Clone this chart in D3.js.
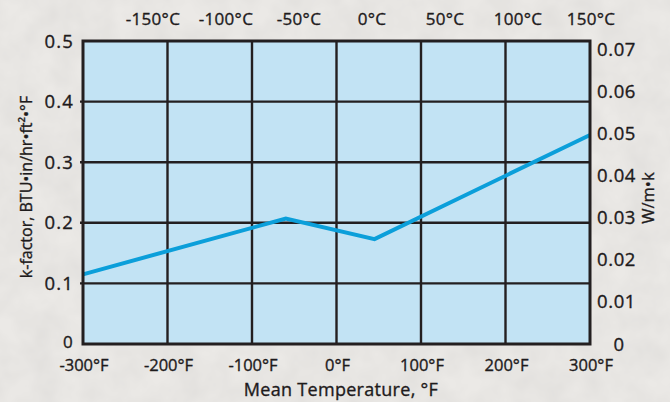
<!DOCTYPE html>
<html>
<head>
<meta charset="utf-8">
<script src="https://cdn.jsdelivr.net/npm/d3@7"></script>
<style>
	body { margin: 0; background: #e9e7e4; }
	svg text { font-family: "Open Sans", "Noto Sans", sans-serif; fill: #1e1b1c; stroke: #1e1b1c; stroke-width: 0.35px; }
</style>
</head>
<body>
<svg id="chart" width="670" height="402"></svg>
<script>
// data
const tempF = [-300, -60, 45, 300];
const kFactor = [0.115, 0.207, 0.173, 0.345];
const bottomTicks = [-300, -200, -100, 0, 100, 200, 300];
const leftTicks = [0, 0.1, 0.2, 0.3, 0.4, 0.5];
const rightTicks = [0, 0.01, 0.02, 0.03, 0.04, 0.05, 0.06, 0.07];
const topTicks = [-150, -100, -50, 0, 50, 100, 150];

whenDocumentLoaded(() => {
	const svg = d3.select("#chart");
	const plot = {left: 83, right: 590, top: 41, bottom: 344};

	// paper texture
	let defs = svg.append("defs");
	let f = defs.append("filter").attr("id", "paper").attr("x", 0).attr("y", 0).attr("width", "100%").attr("height", "100%");
	f.append("feTurbulence").attr("type", "fractalNoise").attr("baseFrequency", 0.035).attr("numOctaves", 3).attr("seed", 4);
	f.append("feColorMatrix").attr("type", "matrix")
		.attr("values", "0 0 0 0 0.55  0 0 0 0 0.54  0 0 0 0 0.53  0 0 0 0.35 -0.08");
	svg.append("rect").attr("width", 670).attr("height", 402).attr("fill", "#ebe9e6");
	svg.append("rect").attr("width", 670).attr("height", 402).attr("filter", "url(#paper)");

	const x = d3.scaleLinear().domain([-300, 300]).range([plot.left, plot.right]);
	const y = d3.scaleLinear().domain([0, 0.5]).range([plot.bottom, plot.top]);
	// W/m·K = BTU·in/hr·ft²·°F * 0.1442
	const yR = d3.scaleLinear().domain([0, 0.5 * 0.1442]).range([plot.bottom, plot.top]);
	// celsius labels on top are spread a little differently than the °F grid
	const xC = d3.scaleLinear().domain([-150, 150]).range([153, 591]);

	svg.append("rect")
		.attr("x", plot.left).attr("y", plot.top)
		.attr("width", plot.right - plot.left).attr("height", plot.bottom - plot.top)
		.attr("fill", "#c2e3f4");

	// grid
	svg.append("g").selectAll("line").data(bottomTicks.slice(1, -1)).join("line")
		.attr("x1", d => x(d)).attr("x2", d => x(d))
		.attr("y1", plot.top).attr("y2", plot.bottom)
		.attr("stroke", "#231f20").attr("stroke-width", 2.4);
	svg.append("g").selectAll("line").data(leftTicks.slice(1, -1)).join("line")
		.attr("x1", plot.left - 3).attr("x2", plot.right)
		.attr("y1", d => y(d)).attr("y2", d => y(d))
		.attr("stroke", "#231f20").attr("stroke-width", 2.4);

	// the curve
	const pts = tempF.map((t, i) => [t, kFactor[i]]);
	svg.append("path").datum(pts)
		.attr("d", d3.line().x(d => x(d[0])).y(d => y(d[1])))
		.attr("fill", "none").attr("stroke", "#0b9fda").attr("stroke-width", 4)
		.attr("stroke-linejoin", "miter");

	svg.append("rect")
		.attr("x", plot.left).attr("y", plot.top)
		.attr("width", plot.right - plot.left).attr("height", plot.bottom - plot.top)
		.attr("fill", "none").attr("stroke", "#231f20").attr("stroke-width", 3);

	// tick labels
	svg.append("g").selectAll("text").data(leftTicks).join("text")
		.attr("x", 74).attr("y", d => y(d) + (d === 0 ? 3.5 : 6.5))
		.attr("text-anchor", "end").attr("font-size", d => d === 0 ? 17 : 18.5).attr("letter-spacing", 1.2)
		.text(d => d === 0 ? "0" : d3.format(".1f")(d));
	svg.append("g").selectAll("text").data(rightTicks.slice(1)).join("text")
		.attr("x", 597).attr("y", d => yR(d) + 6.5)
		.attr("text-anchor", "start").attr("font-size", 18.5).attr("letter-spacing", 0.6)
		.text(d => d3.format(".2f")(d));
	svg.append("text").attr("x", 624).attr("y", yR(0) + 6.5)
		.attr("text-anchor", "end").attr("font-size", 18.5).text("0");
	svg.append("g").selectAll("text").data(bottomTicks).join("text")
		.attr("x", d => x(d) + 1).attr("y", 371)
		.attr("text-anchor", "middle").attr("font-size", 16.5)
		.text(d => d + "°F");
	svg.append("g").selectAll("text").data(topTicks).join("text")
		.attr("x", d => xC(d)).attr("y", 25)
		.attr("text-anchor", "middle").attr("font-size", 17).attr("letter-spacing", 0.3)
		.text(d => d + "°C");

	// axis titles
	svg.append("text").attr("x", 341).attr("y", 396)
		.attr("text-anchor", "middle").attr("font-size", 18).attr("letter-spacing", 0.3)
		.text("Mean Temperature, °F");
	svg.append("text")
		.attr("transform", "translate(32,187) rotate(-90)")
		.attr("text-anchor", "middle").attr("font-size", 16)
		.text("k-factor, BTU•in/hr•ft²•°F");
	svg.append("text")
		.attr("transform", "translate(654,198) rotate(-90)")
		.attr("text-anchor", "middle").attr("font-size", 16.5)
		.text("W/m•k");
});

function whenDocumentLoaded(action) {
	if (document.readyState === "loading") {
		document.addEventListener("DOMContentLoaded", action);
	} else {
		action();
	}
}
</script>
</body>
</html>
